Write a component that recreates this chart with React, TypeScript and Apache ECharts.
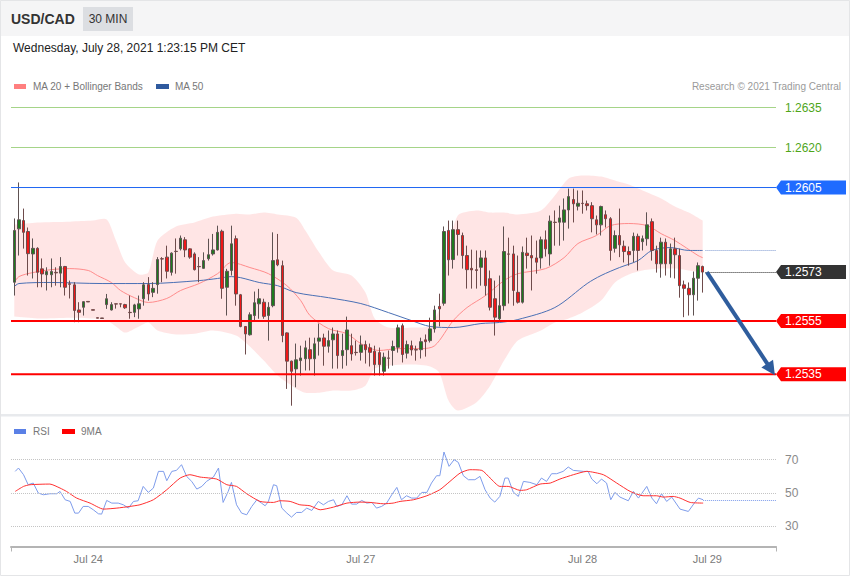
import { useEffect, useRef } from 'react';
import * as echarts from 'echarts';

// ---------- data ----------
// candles: [open, close, low, high]
const candles: number[][] = [
  [1.25695, 1.25889, 1.25645, 1.25934], [1.25895, 1.25929, 1.25795, 1.26069], [1.25926, 1.25882, 1.25821, 1.25971],
  [1.25885, 1.25802, 1.25720, 1.25900], [1.25801, 1.25822, 1.25709, 1.25859], [1.25822, 1.25732, 1.25676, 1.25826],
  [1.25745, 1.25726, 1.25676, 1.25784], [1.25723, 1.25735, 1.25664, 1.25751], [1.25723, 1.25735, 1.25676, 1.25784],
  [1.25732, 1.25730, 1.25682, 1.25751], [1.25729, 1.25754, 1.25676, 1.25789], [1.25754, 1.25676, 1.25645, 1.25756],
  [1.25689, 1.25687, 1.25634, 1.25701], [1.25685, 1.25589, 1.25545, 1.25695], [1.25591, 1.25582, 1.25545, 1.25620],
  [1.25601, 1.25622, 1.25570, 1.25623], [1.25623, 1.25621, 1.25621, 1.25623], [1.25592, 1.25590, 1.25590, 1.25592],
  [1.25562, 1.25560, 1.25560, 1.25562], [1.25561, 1.25559, 1.25559, 1.25561], [1.25611, 1.25633, 1.25595, 1.25651],
  [1.25591, 1.25611, 1.25589, 1.25620], [1.25614, 1.25613, 1.25596, 1.25614], [1.25614, 1.25613, 1.25601, 1.25614],
  [1.25611, 1.25599, 1.25595, 1.25614], [1.25582, 1.25581, 1.25558, 1.25645], [1.25582, 1.25610, 1.25564, 1.25614],
  [1.25595, 1.25614, 1.25558, 1.25645], [1.25633, 1.25685, 1.25607, 1.25695], [1.25686, 1.25651, 1.25626, 1.25714],
  [1.25657, 1.25672, 1.25639, 1.25695], [1.25686, 1.25780, 1.25652, 1.25789], [1.25783, 1.25782, 1.25695, 1.25789],
  [1.25789, 1.25736, 1.25709, 1.25832], [1.25732, 1.25804, 1.25720, 1.25807], [1.25811, 1.25810, 1.25727, 1.25859],
  [1.25820, 1.25860, 1.25814, 1.25870], [1.25854, 1.25816, 1.25789, 1.25864], [1.25820, 1.25789, 1.25783, 1.25822],
  [1.25801, 1.25742, 1.25739, 1.25807], [1.25754, 1.25753, 1.25695, 1.25789], [1.25747, 1.25776, 1.25746, 1.25807],
  [1.25783, 1.25798, 1.25776, 1.25858], [1.25801, 1.25816, 1.25795, 1.25876], [1.25816, 1.25882, 1.25814, 1.25907],
  [1.25886, 1.25672, 1.25633, 1.25892], [1.25676, 1.25736, 1.25570, 1.25745], [1.25739, 1.25839, 1.25720, 1.25907],
  [1.25858, 1.25651, 1.25607, 1.25870], [1.25648, 1.25529, 1.25526, 1.25651], [1.25529, 1.25501, 1.25424, 1.25530],
  [1.25498, 1.25573, 1.25495, 1.25582], [1.25570, 1.25618, 1.25551, 1.25660], [1.25614, 1.25633, 1.25558, 1.25670],
  [1.25620, 1.25567, 1.25558, 1.25633], [1.25570, 1.25601, 1.25476, 1.25620], [1.25607, 1.25776, 1.25601, 1.25882],
  [1.25779, 1.25760, 1.25755, 1.25876], [1.25757, 1.25495, 1.25470, 1.25776], [1.25505, 1.25399, 1.25295, 1.25507],
  [1.25399, 1.25361, 1.25232, 1.25401], [1.25370, 1.25404, 1.25301, 1.25465], [1.25401, 1.25411, 1.25345, 1.25457],
  [1.25408, 1.25449, 1.25364, 1.25476], [1.25442, 1.25408, 1.25364, 1.25487], [1.25408, 1.25464, 1.25345, 1.25487],
  [1.25474, 1.25486, 1.25420, 1.25540], [1.25486, 1.25455, 1.25382, 1.25502], [1.25455, 1.25476, 1.25431, 1.25514],
  [1.25479, 1.25501, 1.25371, 1.25525], [1.25501, 1.25420, 1.25371, 1.25514], [1.25420, 1.25439, 1.25371, 1.25502],
  [1.25442, 1.25516, 1.25382, 1.25566], [1.25457, 1.25426, 1.25401, 1.25502], [1.25432, 1.25431, 1.25420, 1.25476],
  [1.25432, 1.25460, 1.25401, 1.25495], [1.25461, 1.25442, 1.25390, 1.25476], [1.25449, 1.25432, 1.25379, 1.25465],
  [1.25436, 1.25386, 1.25345, 1.25457], [1.25431, 1.25386, 1.25345, 1.25450], [1.25361, 1.25414, 1.25345, 1.25431],
  [1.25411, 1.25410, 1.25371, 1.25439], [1.25439, 1.25454, 1.25382, 1.25476], [1.25451, 1.25524, 1.25431, 1.25536],
  [1.25532, 1.25424, 1.25394, 1.25540], [1.25429, 1.25461, 1.25409, 1.25476], [1.25457, 1.25441, 1.25420, 1.25476],
  [1.25442, 1.25441, 1.25401, 1.25457], [1.25442, 1.25472, 1.25409, 1.25487], [1.25479, 1.25472, 1.25416, 1.25499],
  [1.25476, 1.25520, 1.25469, 1.25562], [1.25520, 1.25591, 1.25506, 1.25607], [1.25604, 1.25595, 1.25529, 1.25652],
  [1.25616, 1.25885, 1.25607, 1.25904], [1.25889, 1.25779, 1.25720, 1.25926], [1.25780, 1.25892, 1.25746, 1.25926],
  [1.25892, 1.25874, 1.25795, 1.25926], [1.25870, 1.25795, 1.25746, 1.25881], [1.25795, 1.25742, 1.25671, 1.25832],
  [1.25747, 1.25741, 1.25671, 1.25817], [1.25742, 1.25739, 1.25671, 1.25814], [1.25751, 1.25786, 1.25682, 1.25814],
  [1.25786, 1.25682, 1.25645, 1.25814], [1.25708, 1.25601, 1.25589, 1.25739], [1.25633, 1.25564, 1.25495, 1.25701],
  [1.25558, 1.25607, 1.25551, 1.25720], [1.25607, 1.25810, 1.25589, 1.25904], [1.25801, 1.25800, 1.25615, 1.25862],
  [1.25801, 1.25664, 1.25607, 1.25832], [1.25657, 1.25620, 1.25615, 1.25795], [1.25620, 1.25807, 1.25615, 1.25829],
  [1.25804, 1.25795, 1.25746, 1.25862], [1.25795, 1.25786, 1.25664, 1.25870], [1.25786, 1.25770, 1.25727, 1.25851],
  [1.25786, 1.25854, 1.25746, 1.25866], [1.25854, 1.25820, 1.25791, 1.25889], [1.25801, 1.25924, 1.25757, 1.25945],
  [1.25920, 1.25919, 1.25832, 1.25964], [1.25920, 1.25936, 1.25832, 1.25982], [1.25920, 1.25966, 1.25851, 1.26009],
  [1.25966, 1.26016, 1.25896, 1.26046], [1.26005, 1.25989, 1.25919, 1.26046], [1.25980, 1.25991, 1.25964, 1.26039],
  [1.25991, 1.25990, 1.25952, 1.26039], [1.25989, 1.25982, 1.25964, 1.26001], [1.25982, 1.25933, 1.25882, 1.25995],
  [1.25929, 1.25910, 1.25874, 1.25945], [1.25910, 1.25979, 1.25870, 1.25982], [1.25948, 1.25933, 1.25900, 1.25964],
  [1.25933, 1.25814, 1.25776, 1.25939], [1.25822, 1.25870, 1.25806, 1.25889], [1.25870, 1.25835, 1.25789, 1.25971],
  [1.25830, 1.25810, 1.25769, 1.25851], [1.25810, 1.25798, 1.25757, 1.25829], [1.25814, 1.25867, 1.25769, 1.25881],
  [1.25867, 1.25814, 1.25739, 1.25877], [1.25847, 1.25858, 1.25814, 1.25870], [1.25858, 1.25910, 1.25832, 1.25957],
  [1.25922, 1.25814, 1.25776, 1.25934], [1.25814, 1.25764, 1.25731, 1.25832], [1.25764, 1.25845, 1.25712, 1.25862],
  [1.25845, 1.25764, 1.25720, 1.25859], [1.25764, 1.25820, 1.25712, 1.25840], [1.25820, 1.25798, 1.25709, 1.25862],
  [1.25795, 1.25682, 1.25637, 1.25821], [1.25685, 1.25672, 1.25564, 1.25701], [1.25672, 1.25648, 1.25570, 1.25694],
  [1.25648, 1.25710, 1.25570, 1.25735], [1.25710, 1.25757, 1.25626, 1.25769], [1.25754, 1.25733, 1.25656, 1.25757],
];

// Bollinger band (MA 20 +/- 2 sd) read at sample candle positions
const bandX = [0, 5, 12, 17, 20, 22, 24, 27, 29, 31, 35, 39, 43, 48, 51, 54, 57, 61, 63, 66, 69, 73, 76, 78, 81, 86, 90, 92, 94, 96, 100, 103, 106, 109, 114, 117, 120, 123, 127, 130, 133, 136, 140, 143, 146, 149];
const bandUpper = [1.25911, 1.25919, 1.25922, 1.25926, 1.25930, 1.25851, 1.25769, 1.25724, 1.25731, 1.25851, 1.25904, 1.25919, 1.25941, 1.25952, 1.25949, 1.25956, 1.25949, 1.25937, 1.25889, 1.25806, 1.25739, 1.25720, 1.25656, 1.25559, 1.25525, 1.25525, 1.25532, 1.25596, 1.25814, 1.25945, 1.25964, 1.25956, 1.25956, 1.25949, 1.25964, 1.26020, 1.26084, 1.26095, 1.26091, 1.26076, 1.26061, 1.26039, 1.26009, 1.25979, 1.25956, 1.25926];
const bandLower = [1.25566, 1.25559, 1.25562, 1.25559, 1.25551, 1.25529, 1.25506, 1.25529, 1.25544, 1.25514, 1.25499, 1.25502, 1.25514, 1.25495, 1.25454, 1.25401, 1.25345, 1.25296, 1.25281, 1.25281, 1.25289, 1.25289, 1.25307, 1.25371, 1.25382, 1.25386, 1.25379, 1.25356, 1.25251, 1.25214, 1.25244, 1.25307, 1.25401, 1.25476, 1.25514, 1.25544, 1.25559, 1.25581, 1.25626, 1.25694, 1.25724, 1.25739, 1.25746, 1.25746, 1.25739, 1.25731];

const ma20X = [0, 1, 4, 8, 12, 16, 18, 21, 23, 26, 29, 33, 36, 40, 44, 47, 51, 55, 59, 62, 64, 68, 72, 75, 79, 83, 88, 91, 95, 98, 102, 106, 109, 115, 119, 122, 126, 129, 133, 137, 140, 143, 148, 149];
const ma20 = [1.25694, 1.25716, 1.25731, 1.25742, 1.25746, 1.25739, 1.25720, 1.25694, 1.25664, 1.25637, 1.25619, 1.25634, 1.25664, 1.25690, 1.25727, 1.25769, 1.25750, 1.25727, 1.25682, 1.25626, 1.25570, 1.25521, 1.25502, 1.25465, 1.25439, 1.25446, 1.25446, 1.25457, 1.25551, 1.25600, 1.25645, 1.25701, 1.25727, 1.25746, 1.25787, 1.25840, 1.25870, 1.25907, 1.25915, 1.25907, 1.25877, 1.25851, 1.25795, 1.25787];

const ma50X = [0, 1, 8, 19, 29, 40, 44, 47, 49, 53, 57, 61, 68, 75, 81, 86, 90, 95, 101, 105, 109, 117, 124, 127, 131, 135, 138, 142, 146, 149];
const ma50 = [1.25679, 1.25690, 1.25694, 1.25690, 1.25690, 1.25701, 1.25709, 1.25716, 1.25712, 1.25694, 1.25682, 1.25656, 1.25637, 1.25615, 1.25581, 1.25551, 1.25529, 1.25525, 1.25540, 1.25544, 1.25555, 1.25600, 1.25690, 1.25720, 1.25750, 1.25776, 1.25814, 1.25825, 1.25814, 1.25814];

const rsiX = [0.2, 0.9, 2.0, 3.0, 4.1, 5.2, 6.3, 7.7, 9.2, 9.9, 11.0, 12.1, 13.1, 13.9, 14.9, 16.0, 17.1, 18.2, 18.9, 20.0, 21.1, 22.5, 23.6, 24.7, 25.8, 26.8, 27.9, 29.0, 30.1, 31.2, 32.3, 33.0, 34.1, 35.1, 36.2, 37.3, 38.4, 39.5, 40.6, 41.6, 43.1, 44.2, 45.2, 46.3, 47.0, 48.1, 49.2, 50.3, 51.4, 52.5, 53.5, 54.3, 55.0, 56.1, 56.8, 57.9, 59.0, 60.0, 61.1, 62.2, 63.3, 64.4, 65.8, 66.9, 68.0, 69.1, 69.8, 70.9, 72.0, 73.0, 74.1, 75.2, 76.3, 77.4, 78.4, 79.5, 80.6, 81.7, 82.8, 83.8, 84.9, 86.0, 87.1, 88.2, 89.3, 90.3, 91.4, 92.1, 93.0, 94.1, 95.2, 96.1, 97.2, 98.3, 99.7, 100.8, 101.9, 103.0, 104.0, 105.1, 106.2, 106.9, 108.0, 109.1, 110.2, 111.6, 113.1, 114.1, 115.2, 116.3, 117.4, 118.8, 119.9, 121.0, 123.2, 124.2, 125.0, 126.1, 127.1, 128.2, 129.1, 130.0, 131.1, 132.9, 134.0, 135.1, 136.9, 138.0, 139.0, 140.1, 141.2, 142.3, 144.1, 145.9, 147.3, 148.1, 149.1];
const rsiY = [63, 65, 61, 55, 56, 50, 49, 49.6, 49.6, 51, 46, 45, 38, 38, 42, 42, 40, 37.6, 37.4, 45.6, 44, 44, 43, 41, 45, 45.4, 54, 50.4, 53, 63, 63, 57.4, 63, 63.6, 67, 60, 57, 52.4, 54, 57, 59.6, 65, 44.4, 51, 56.4, 43, 38, 37, 42, 46, 44, 42.4, 45, 55, 54.4, 41, 38, 35.6, 38.4, 38.4, 41, 39.6, 45, 43, 45, 46, 42, 43, 48.4, 43.4, 43.4, 45.6, 44, 44.4, 41, 42, 44, 49, 53.4, 46, 48.4, 47, 47, 50.4, 50.4, 56, 60.4, 60.4, 74.6, 66, 70, 68.4, 60.4, 58, 58, 60, 52, 47, 44.6, 48, 59, 59, 50.6, 48, 57, 56.4, 55, 59, 57, 61.6, 61.6, 63, 65.6, 63.6, 63, 63, 58.4, 55.6, 58.4, 56, 46, 50.4, 47.6, 45.4, 51, 47, 54, 47, 43.6, 49.6, 45, 47.6, 40.4, 39, 44.4, 47, 46];

const rsiMaX = [0.2, 2.0, 3.4, 7.7, 9.9, 11.3, 13.5, 16.4, 19.3, 22.2, 25.0, 27.2, 30.1, 33.0, 35.9, 38.0, 40.2, 43.8, 46.0, 48.1, 50.3, 53.2, 56.1, 57.5, 59.7, 61.8, 64.0, 66.2, 69.1, 72.0, 74.8, 77.0, 79.9, 82.0, 83.5, 86.4, 89.3, 92.1, 94.3, 96.5, 98.6, 101.2, 103.0, 105.1, 106.9, 109.5, 110.9, 113.8, 116.0, 118.1, 121.0, 123.9, 127.5, 130.4, 133.3, 136.1, 139.0, 140.5, 142.6, 144.1, 146.3, 149.1];
const rsiMa = [51, 54, 55, 55.4, 53, 51, 47, 44, 40.4, 41, 42, 43, 46, 52, 59, 61, 59.6, 58.4, 55, 54, 49.6, 45, 44.4, 45.4, 45, 43, 42.4, 40, 41.6, 44, 44.6, 44.4, 43.6, 44, 45, 46, 48.4, 52, 57, 62, 64, 63.6, 59, 54, 54, 51.6, 52, 55.4, 56, 58.4, 61, 63, 61, 56, 51, 48.4, 48.4, 47.6, 48, 47, 44.4, 44];

const rsiLevels = [70, 50, 30];
const dateTickX = [16, 75, 123, 150];
const dateLabels = ['Jul 24', 'Jul 27', 'Jul 28', 'Jul 29'];

const greenLevels = [1.2635, 1.262];
const pivotLevel = 1.2605;
const supportLevels = [1.2555, 1.2535];
const arrowEnd = [163.8, 1.25368];

// ---------- layout constants ----------
const X_MIN = -0.714;
const X_MAX = 164.87;
const FONT = '"Liberation Sans", Arial, Helvetica, sans-serif';

const tagPath = 'path://M0,7L5,0L70,0L70,14L5,14Z';

function tag(value: number, color: string) {
  return {
    coord: [X_MAX, value],
    value,
    symbol: tagPath,
    symbolSize: [70, 14],
    symbolOffset: [35, 0],
    symbolKeepAspect: false,
    itemStyle: { color },
    label: {
      show: true,
      position: 'insideLeft',
      distance: 9,
      color: '#ffffff',
      fontSize: 12,
      fontFamily: FONT,
      formatter: () => value.toFixed(4),
    },
  };
}

// horizontal level drawn as its own line series across the whole plot
function levelSeries(name: string, v: number, color: string, width: number, labelColor?: string) {
  return {
    name,
    type: 'line',
    xAxisIndex: 0,
    yAxisIndex: 0,
    data: [[X_MIN, v], [X_MAX, v]],
    symbol: 'none',
    silent: true,
    clip: false,
    z: 4,
    lineStyle: { color, width, type: 'solid' },
    endLabel: labelColor
      ? { show: true, distance: 9, color: labelColor, fontSize: 12, fontFamily: FONT, formatter: () => v.toFixed(4) }
      : { show: false },
  };
}

export default function App() {
  const ref = useRef<HTMLDivElement>(null);

  useEffect(() => {
    if (!ref.current) return;
    const chart = echarts.init(ref.current, undefined, { renderer: 'svg' });
    const last = candles.length - 1;
    const lastClose = candles[last][1];
    const lastMa50 = ma50[ma50.length - 1];
    const lastRsi = rsiY[rsiY.length - 1];

    const txt = (x: number, y: number, text: string, fill: string, size: number, extra: any = {}) => ({
      type: 'text',
      x,
      y,
      silent: true,
      style: { text, fill, fontSize: size, fontFamily: FONT, verticalAlign: 'middle', align: 'left', ...extra },
    });

    const option: any = {
      animation: false,
      textStyle: { fontFamily: FONT },
      grid: [
        { left: 11, right: 74, top: 95.5, height: 315 },
        { left: 11, right: 74, top: 443, height: 103.5 },
      ],
      xAxis: [
        { type: 'value', gridIndex: 0, min: X_MIN, max: X_MAX, show: false },
        {
          type: 'value',
          gridIndex: 1,
          min: X_MIN,
          max: X_MAX,
          axisLine: { show: true, onZero: false, lineStyle: { color: '#b4b4b4', width: 2 } },
          axisTick: { show: true, customValues: [X_MIN, X_MAX], length: 5, lineStyle: { color: '#b4b4b4', width: 1 } },
          axisLabel: {
            show: true,
            customValues: dateTickX,
            color: '#7a7a7a',
            fontSize: 11,
            margin: 7,
            formatter: (v: number) => {
              const i = dateTickX.indexOf(v);
              return i >= 0 ? dateLabels[i] : '';
            },
          },
          splitLine: { show: false },
        },
      ],
      yAxis: [
        { type: 'value', gridIndex: 0, min: 1.25214, max: 1.26395, show: false },
        { type: 'value', gridIndex: 1, min: 18, max: 80, show: false },
      ],
      graphic: [
        { type: 'rect', shape: { x: 0, y: 0, width: 850, height: 36 }, style: { fill: '#f5f5f6' }, silent: true, z: -10 },
        { type: 'rect', shape: { x: 0, y: 414, width: 850, height: 2.5 }, style: { fill: '#e8eaed' }, silent: true, z: -10 },
        { type: 'rect', shape: { x: 0.5, y: 0.5, width: 849, height: 575 }, style: { fill: 'none', stroke: '#e4e5e7', lineWidth: 1 }, silent: true, z: -10 },
        txt(11, 19, 'USD/CAD', '#333333', 14, { fontWeight: 'bold' }),
        { type: 'rect', shape: { x: 83, y: 7, width: 50, height: 24 }, style: { fill: '#dcdee2' }, silent: true },
        txt(108, 19, '30 MIN', '#333333', 12, { align: 'center' }),
        txt(13, 48, 'Wednesday, July 28, 2021 1:23:15 PM CET', '#222222', 12),
        { type: 'rect', shape: { x: 14, y: 84, width: 12, height: 5 }, style: { fill: '#ff7f7f' }, silent: true },
        txt(33, 86.5, 'MA 20 + Bollinger Bands', '#777777', 10),
        { type: 'rect', shape: { x: 156, y: 84, width: 13, height: 5 }, style: { fill: '#2f5a9e' }, silent: true },
        txt(175, 86.5, 'MA 50', '#777777', 10),
        txt(841, 86.5, 'Research © 2021 Trading Central', '#9a9a9a', 10, { align: 'right' }),
        { type: 'rect', shape: { x: 14, y: 429, width: 12, height: 5 }, style: { fill: '#5a80e6' }, silent: true },
        txt(33, 431.5, 'RSI', '#777777', 10),
        { type: 'rect', shape: { x: 62, y: 429, width: 13, height: 5 }, style: { fill: '#ff0000' }, silent: true },
        txt(81, 431.5, '9MA', '#777777', 10),
      ],
      series: [
        {
          name: 'Bollinger Bands',
          type: 'custom',
          xAxisIndex: 0,
          yAxisIndex: 0,
          silent: true,
          z: 1,
          data: [[bandX[0], bandUpper[0]]],
          renderItem: (params: any, api: any) => {
            if (params.dataIndex !== 0) return null;
            const up = bandX.map((x, i) => api.coord([x, bandUpper[i]]));
            const lo = bandX.map((x, i) => api.coord([x, bandLower[i]])).reverse();
            const pts = [up[0], ...up, up[up.length - 1], lo[0], ...lo, lo[lo.length - 1]];
            return {
              type: 'polygon',
              shape: { points: pts, smooth: 0.25 },
              style: { fill: 'rgba(255,160,160,0.28)', stroke: 'none' },
            };
          },
        },
        {
          name: 'MA 20',
          type: 'line',
          xAxisIndex: 0,
          yAxisIndex: 0,
          data: ma20X.map((x, i) => [x, ma20[i]]),
          symbol: 'none',
          smooth: 0.3,
          lineStyle: { color: '#ff8c8c', width: 1 },
          silent: true,
          z: 2,
        },
        {
          name: 'MA 50',
          type: 'line',
          xAxisIndex: 0,
          yAxisIndex: 0,
          data: ma50X.map((x, i) => [x, ma50[i]]),
          symbol: 'none',
          smooth: 0.3,
          lineStyle: { color: '#4a70b5', width: 1 },
          silent: true,
          z: 2,
        },
        {
          name: 'USD/CAD',
          type: 'candlestick',
          xAxisIndex: 0,
          yAxisIndex: 0,
          data: candles.map((c, i) => [i, c[0], c[1], c[2], c[3]]),
          encode: { x: 0, y: [1, 2, 3, 4] },
          barWidth: 3,
          itemStyle: {
            color: '#1e7b1e',
            color0: '#f01818',
            borderColor: '#5e5252',
            borderColor0: '#6e4b4b',
            borderColorDoji: '#5e5252',
            borderWidth: 1,
          },
          silent: true,
          z: 3,
          markLine: {
            silent: true,
            symbol: 'none',
            animation: false,
            data: [
              [
                { coord: [last + 0.6, lastClose], lineStyle: { color: '#222222', width: 1, type: 'dotted' }, label: { show: false } },
                { coord: [X_MAX, lastClose] },
              ],
              [
                { coord: [last + 0.6, lastMa50], lineStyle: { color: '#7f9ad0', width: 1, type: 'dotted' }, label: { show: false } },
                { coord: [X_MAX, lastMa50] },
              ],
            ],
          },
          markPoint: {
            silent: true,
            animation: false,
            data: [
              tag(pivotLevel, '#1f6bff'),
              tag(lastClose, '#333333'),
              ...supportLevels.map((v) => tag(v, '#ff0000')),
            ],
          },
        },
        ...greenLevels.map((v, i) => levelSeries('target' + i, v, '#a5d488', 1, '#4fa61a')),
        levelSeries('pivot', pivotLevel, '#1f66f2', 1),
        ...supportLevels.map((v, i) => levelSeries('support' + i, v, '#ff0000', 2)),
        {
          name: 'arrow',
          type: 'line',
          xAxisIndex: 0,
          yAxisIndex: 0,
          data: [[last, lastClose]],
          symbol: 'none',
          lineStyle: { opacity: 0 },
          silent: true,
          z: 5,
          markLine: {
            silent: true,
            animation: false,
            symbol: ['none', 'triangle'],
            symbolSize: 14,
            data: [
              [
                { coord: [last + 0.9, lastClose], lineStyle: { color: '#2f5d9d', width: 4, type: 'solid', opacity: 1 }, label: { show: false } },
                { coord: arrowEnd, lineStyle: { color: '#2f5d9d', width: 4, type: 'solid', opacity: 1 } },
              ],
            ],
          },
        },
        {
          name: 'RSI',
          type: 'line',
          xAxisIndex: 1,
          yAxisIndex: 1,
          data: rsiX.map((x, i) => [x, rsiY[i]]),
          symbol: 'none',
          lineStyle: { color: '#7e9ceb', width: 1 },
          silent: true,
          z: 3,
          markLine: {
            silent: true,
            symbol: 'none',
            animation: false,
            data: [
              ...rsiLevels.map((v) => ({
                yAxis: v,
                lineStyle: { color: '#c4c4c4', width: 1, type: 'dotted' },
                label: { show: true, position: 'end', distance: 9, color: '#8a8a8a', fontSize: 12, fontFamily: FONT, formatter: () => String(v) },
              })),
              [
                { coord: [rsiX[rsiX.length - 1], lastRsi], lineStyle: { color: '#7e9ceb', width: 1, type: 'dotted' }, label: { show: false } },
                { coord: [X_MAX, lastRsi] },
              ],
            ],
          },
        },
        {
          name: '9MA',
          type: 'line',
          xAxisIndex: 1,
          yAxisIndex: 1,
          data: rsiMaX.map((x, i) => [x, rsiMa[i]]),
          symbol: 'none',
          smooth: 0.2,
          lineStyle: { color: '#ff3030', width: 1 },
          silent: true,
          z: 4,
        },
      ],
    };

    chart.setOption(option);
    return () => chart.dispose();
  }, []);

  return (
    <div
      ref={ref}
      style={{ position: 'fixed', left: 0, top: 0, width: 850, height: 576, background: '#ffffff' }}
    />
  );
}
